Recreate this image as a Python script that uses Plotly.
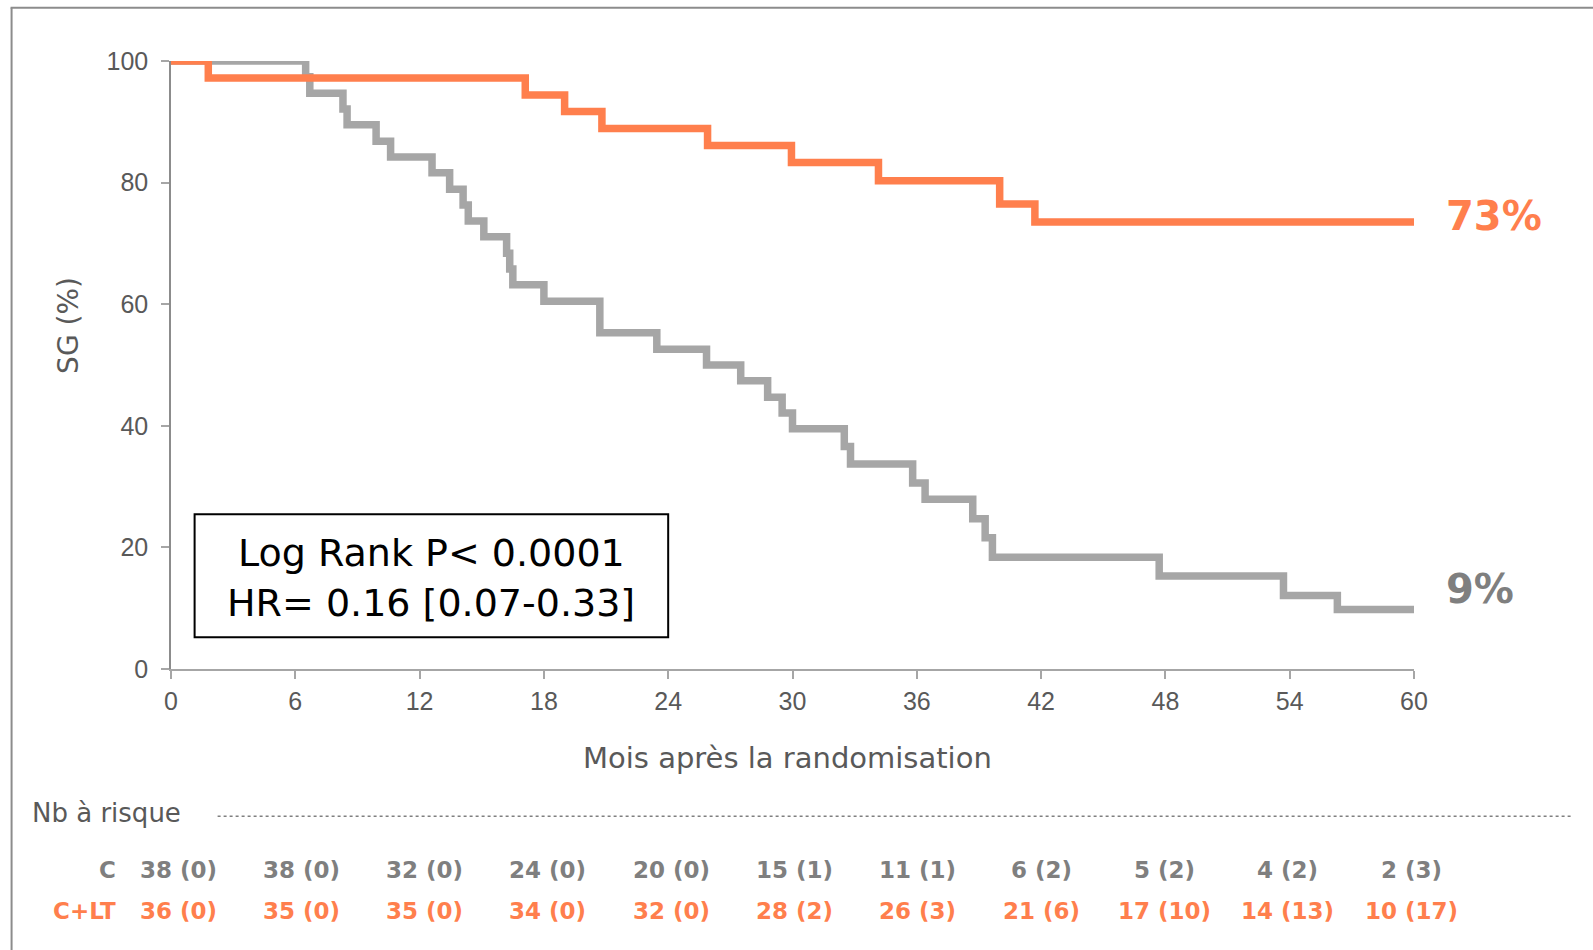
import plotly.graph_objects as go

# ---- data ----
# Control arm (C): Kaplan-Meier steps (months, survival %)
months_c = [0, 6.5, 6.7, 8.3, 8.5, 9.9, 10.6, 12.6, 13.45, 14.1, 14.35, 15.1, 16.2, 16.35, 16.5,
            18.0, 20.7, 23.45, 25.85, 27.5, 28.8, 29.5, 30.0, 32.5, 32.8, 35.8, 36.4, 38.7,
            39.3, 39.65, 47.7, 53.7, 56.3, 60]
surv_c = [100, 97.4, 94.7, 92.1, 89.5, 86.8, 84.2, 81.6, 78.9, 76.3, 73.7, 71.1, 68.4, 65.8, 63.2,
          60.5, 55.3, 52.6, 50.0, 47.4, 44.7, 42.1, 39.5, 36.6, 33.7, 30.6, 27.9, 24.7,
          21.6, 18.4, 15.3, 12.1, 9.8, 9.8]

# C + LT arm
months_lt = [0, 1.8, 17.1, 19.0, 20.8, 25.9, 29.95, 34.15, 40.0, 41.7, 60]
surv_lt = [100, 97.2, 94.4, 91.7, 88.9, 86.1, 83.3, 80.3, 76.5, 73.5, 73.5]

# Risk table
risk_months = [0, 6, 12, 18, 24, 30, 36, 42, 48, 54, 60]
risk_c = ["38 (0)", "38 (0)", "32 (0)", "24 (0)", "20 (0)", "15 (1)", "11 (1)", "6 (2)", "5 (2)", "4 (2)", "2 (3)"]
risk_lt = ["36 (0)", "35 (0)", "35 (0)", "34 (0)", "32 (0)", "28 (2)", "26 (3)", "21 (6)", "17 (10)", "14 (13)", "10 (17)"]

x_ticks = [0, 6, 12, 18, 24, 30, 36, 42, 48, 54, 60]
y_ticks = [0, 20, 40, 60, 80, 100]

ORANGE = "#FF7F4D"
GRAY_LINE = "#A6A6A6"
GRAY_TXT = "#7F7F7F"
DARK_TXT = "#595959"
GEO = "'DejaVu Sans', sans-serif"
TICKF = "'Liberation Sans', Arial, sans-serif"

# ---- layout geometry (pixels) ----
W, H = 1593, 950
L, R, T, B = 171.4, 178.8, 60.7, 281.3
PW = W - L - R
PH = H - T - B


def px(x):
    return (x - L) / PW


def py(y):
    return (H - B - y) / PH


fig = go.Figure()
fig.add_trace(go.Scatter(x=months_c, y=surv_c, mode="lines", line=dict(shape="hv", color=GRAY_LINE, width=7.5),
                         cliponaxis=False, showlegend=False, hoverinfo="skip"))
fig.add_trace(go.Scatter(x=months_lt, y=surv_lt, mode="lines", line=dict(shape="hv", color=ORANGE, width=7.5),
                         cliponaxis=False, showlegend=False, hoverinfo="skip"))

ann = []
# end percentages
ann.append(dict(x=px(1444), y=py(216), xref="paper", yref="paper", text="<b>73%</b>", showarrow=False,
                xanchor="left", yanchor="middle", font=dict(family=GEO, size=40, color=ORANGE)))
ann.append(dict(x=px(1444), y=py(589), xref="paper", yref="paper", text="<b>9%</b>", showarrow=False,
                xanchor="left", yanchor="middle", font=dict(family=GEO, size=40, color=GRAY_TXT)))
# axis titles
ann.append(dict(x=px(69), y=py(325), xref="paper", yref="paper", text="SG (%)", showarrow=False, textangle=-90,
                xanchor="center", yanchor="middle", font=dict(family=GEO, size=28, color=DARK_TXT)))
ann.append(dict(x=px(788), y=py(758), xref="paper", yref="paper", text="Mois après la randomisation",
                showarrow=False, xanchor="center", yanchor="middle", font=dict(family=GEO, size=29, color=DARK_TXT)))
# stats box text
ann.append(dict(x=px(431.7), y=py(553), xref="paper", yref="paper", text="Log Rank P< 0.0001",
                showarrow=False, xanchor="center", yanchor="middle",
                font=dict(family=GEO, size=38, color="#000000")))
ann.append(dict(x=px(431.7), y=py(603), xref="paper", yref="paper", text="HR= 0.16 [0.07-0.33]",
                showarrow=False, xanchor="center", yanchor="middle",
                font=dict(family=GEO, size=38, color="#000000")))
# risk table
ann.append(dict(x=px(30), y=py(813), xref="paper", yref="paper", text="Nb à risque", showarrow=False,
                xanchor="left", yanchor="middle", font=dict(family=GEO, size=26, color=DARK_TXT)))
ann.append(dict(x=px(118), y=py(870), xref="paper", yref="paper", text="<b>C</b>", showarrow=False,
                xanchor="right", yanchor="middle", font=dict(family=GEO, size=23, color=GRAY_TXT)))
ann.append(dict(x=px(118), y=py(911), xref="paper", yref="paper", text="<b>C+LT</b>", showarrow=False,
                xanchor="right", yanchor="middle", font=dict(family=GEO, size=23, color=ORANGE)))
for m, c, lt in zip(risk_months, risk_c, risk_lt):
    shift = 7 - m / 6.0
    ann.append(dict(x=m, y=py(870), xref="x", yref="paper", text="<b>" + c + "</b>", showarrow=False,
                    xshift=shift, xanchor="center", yanchor="middle", font=dict(family=GEO, size=23, color=GRAY_TXT)))
    ann.append(dict(x=m, y=py(911), xref="x", yref="paper", text="<b>" + lt + "</b>", showarrow=False,
                    xshift=shift, xanchor="center", yanchor="middle", font=dict(family=GEO, size=23, color=ORANGE)))

shapes = [
    # stats box
    dict(type="rect", xref="paper", yref="paper", x0=px(195), x1=px(668.5), y0=py(514), y1=py(637),
         line=dict(color="#000000", width=2)),
    # dotted line in risk table
    dict(type="line", xref="paper", yref="paper", x0=px(218), x1=px(1573), y0=py(816), y1=py(816),
         line=dict(color="#808080", width=1.5, dash="dot")),
    # slide frame (top and left)
    dict(type="line", xref="paper", yref="paper", x0=px(12), x1=px(12), y0=py(7.5), y1=py(952),
         line=dict(color="#8C8C8C", width=2)),
    dict(type="line", xref="paper", yref="paper", x0=px(11), x1=px(1595), y0=py(7.5), y1=py(7.5),
         line=dict(color="#8C8C8C", width=2)),
]

fig.update_layout(
    width=W, height=H, autosize=False,
    margin=dict(l=L, r=R, t=T, b=B, pad=0),
    paper_bgcolor="white", plot_bgcolor="white",
    annotations=ann, shapes=shapes,
    xaxis=dict(range=[0, 60], tickvals=x_ticks, ticktext=[str(v) for v in x_ticks], showgrid=False,
               zeroline=False, showline=True, linecolor="#A6A6A6", linewidth=2, ticks="outside", ticklen=8,
               tickcolor="#A6A6A6", tickwidth=1.5, tickfont=dict(family=TICKF, size=25, color=DARK_TXT),
               ticklabelstandoff=1),
    yaxis=dict(range=[0, 100], tickvals=y_ticks, ticktext=[str(v) for v in y_ticks], showgrid=False,
               zeroline=False, showline=True, linecolor="#8C8C8C", linewidth=1.5, ticks="outside", ticklen=8,
               tickcolor="#A6A6A6", tickwidth=1.5, tickfont=dict(family=TICKF, size=25, color=DARK_TXT),
               ticklabelstandoff=8),
)

fig.write_html("out.html")
